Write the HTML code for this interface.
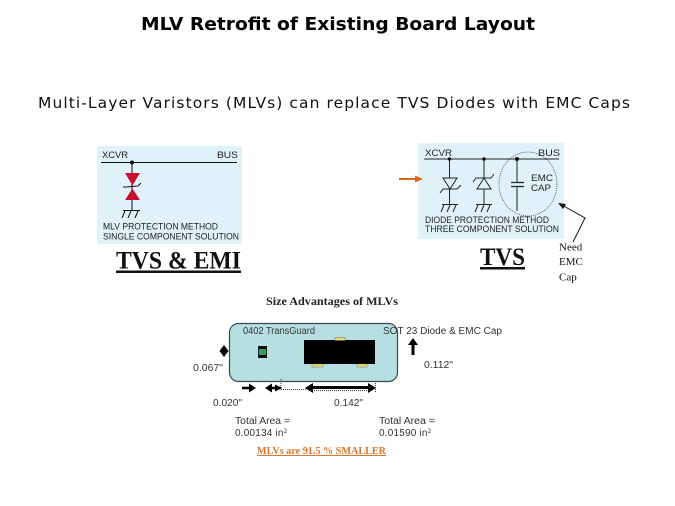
<!DOCTYPE html>
<html><head><meta charset="utf-8"><style>
html,body{margin:0;padding:0;background:#fff}
svg{display:block}
.a{font-family:"Liberation Sans",sans-serif}
.s{font-family:"Liberation Serif",serif}
.d{font-family:"DejaVu Sans",sans-serif}
</style></head><body>
<svg width="675" height="506" viewBox="0 0 675 506" xmlns="http://www.w3.org/2000/svg">
<rect width="675" height="506" fill="#fff"/>
<text class="d" x="141" y="30" font-size="18" font-weight="700" textLength="394" lengthAdjust="spacingAndGlyphs">MLV Retrofit of Existing Board Layout</text>
<text class="d" x="38" y="108" font-size="15.500" textLength="592" lengthAdjust="spacing" fill="#111">Multi-Layer Varistors (MLVs) can replace TVS Diodes with EMC Caps</text>

<!-- left panel -->
<rect x="97" y="146" width="145" height="98" fill="#e1f1fa"/>
<g class="a" font-size="9.500" fill="#222">
<text x="102" y="158" textLength="26" lengthAdjust="spacingAndGlyphs">XCVR</text>
<text x="217" y="158" textLength="21" lengthAdjust="spacingAndGlyphs">BUS</text>
<text x="103" y="229.500" textLength="115" lengthAdjust="spacingAndGlyphs">MLV PROTECTION METHOD</text>
<text x="103" y="239.500" textLength="136" lengthAdjust="spacingAndGlyphs">SINGLE COMPONENT SOLUTION</text>
</g>
<g stroke="#111" stroke-width="1" fill="none">
<path d="M101 162.500H237M132 162.500V210"/>
<path d="M123 187L126 187L138 186L141 183"/>
<path d="M123 210.500H140M125 211L122 218M131 211L128 218M138 211L135 218"/>
</g>
<circle cx="132" cy="162.500" r="2" fill="#111"/>
<path d="M125 173H140L132.500 185.500zM132.500 188.500L140 200H125z" fill="#c8102e"/>
<text class="s" x="116" y="268.500" font-size="25" font-weight="700" textLength="125" lengthAdjust="spacingAndGlyphs" text-decoration="underline" fill="#111">TVS &amp; EMI</text>

<!-- right panel -->
<rect x="418" y="143" width="146" height="96" fill="#e1f1fa"/>
<g class="a" font-size="9.500" fill="#222">
<text x="425" y="156" textLength="27" lengthAdjust="spacingAndGlyphs">XCVR</text>
<text x="538" y="156" textLength="22" lengthAdjust="spacingAndGlyphs">BUS</text>
<text x="531" y="181" textLength="22" lengthAdjust="spacingAndGlyphs">EMC</text>
<text x="531" y="191" textLength="20" lengthAdjust="spacingAndGlyphs">CAP</text>
<text x="425" y="223" textLength="124" lengthAdjust="spacingAndGlyphs">DIODE PROTECTION METHOD</text>
<text x="425" y="232" textLength="134" lengthAdjust="spacingAndGlyphs">THREE COMPONENT SOLUTION</text>
</g>
<g stroke="#222" stroke-width="1" fill="none">
<path d="M424 159H559M449.500 159V178M449.500 189V204M484 159V178M484 189V204M517 159V182.500M517 186.500V211"/>
<path d="M443 178H457L450 189z"/>
<path d="M484 178L491 189H477z"/>
<path d="M440 193L443 189H457L461 185M473 182L476 178H491L494 174"/>
<path d="M511 182.500H524M511 186.500H524" stroke-width="1.300"/>
<path d="M442 204.500H458M444 205L441 212M450 205L447 212M456 205L453 212M476 204.500H492M478 205L475 212M484 205L481 212M490 205L487 212"/>
</g>
<circle cx="449.500" cy="159" r="1.800" fill="#111"/><circle cx="484" cy="159" r="1.800" fill="#111"/><circle cx="517" cy="159" r="2" fill="#111"/>
<ellipse cx="528" cy="184" rx="29" ry="32" fill="none" stroke="#444" stroke-width="0.800" stroke-dasharray="1 1"/>
<path d="M399 179H417" stroke="#d9661f" stroke-width="2" fill="none"/><path d="M415 175.500L423 179L415 182.500z" fill="#d9661f"/>
<path d="M573 242L585 218L560 204" fill="none" stroke="#111" stroke-width="1"/>
<path d="M558 203L566 204L563 209z" fill="#111"/>
<g class="s" font-size="11" fill="#111">
<text x="559" y="250.500">Need</text><text x="559" y="265">EMC</text><text x="559" y="280.500">Cap</text>
</g>
<text class="s" x="480" y="265" font-size="25" font-weight="700" textLength="45" lengthAdjust="spacingAndGlyphs" text-decoration="underline" fill="#111">TVS</text>

<!-- size advantages -->
<text class="s" x="266" y="305" font-size="11.500" font-weight="700" textLength="132" lengthAdjust="spacingAndGlyphs" fill="#222">Size Advantages of MLVs</text>
<rect x="229.500" y="323.500" width="168" height="58" rx="9" fill="#b7dfe2" stroke="#3a4a4c" stroke-width="1.200"/>
<g class="a" font-size="10" fill="#333">
<text x="243" y="334" textLength="72" lengthAdjust="spacingAndGlyphs">0402 TransGuard</text>
<text x="383" y="334" textLength="119" lengthAdjust="spacingAndGlyphs">SOT 23 Diode &amp; EMC Cap</text>
<text x="193" y="371" textLength="30" lengthAdjust="spacingAndGlyphs">0.067"</text>
<text x="424" y="368" textLength="29" lengthAdjust="spacingAndGlyphs">0.112"</text>
<text x="213" y="406" textLength="29" lengthAdjust="spacingAndGlyphs">0.020"</text>
<text x="334" y="406" textLength="29" lengthAdjust="spacingAndGlyphs">0.142"</text>
<text x="235" y="424" textLength="55" lengthAdjust="spacingAndGlyphs">Total Area =</text>
<text x="235" y="436" textLength="52" lengthAdjust="spacing">0.00134 in<tspan font-size="6" dy="-3">2</tspan></text>
<text x="379" y="424" textLength="56" lengthAdjust="spacingAndGlyphs">Total Area =</text>
<text x="379" y="436" textLength="52" lengthAdjust="spacing">0.01590 in<tspan font-size="6" dy="-3">2</tspan></text>
</g>
<rect x="304" y="340" width="71" height="24" fill="#000"/>
<rect x="335" y="337.500" width="10" height="3" fill="#e8e070" stroke="#555" stroke-width=".4"/>
<rect x="312" y="364" width="11" height="3" fill="#e8e070" stroke="#555" stroke-width=".4"/>
<rect x="357" y="364" width="10" height="3" fill="#e8e070" stroke="#555" stroke-width=".4"/>
<rect x="258" y="346" width="9" height="12" fill="#111"/>
<rect x="259" y="349" width="7" height="6" fill="#2e9e6a"/>
<path d="M224 345L228.500 351L224 357L219.500 351z" fill="#000"/>
<path d="M413 355V344" stroke="#000" stroke-width="3"/><path d="M408 345L413 338L418 345z" fill="#000"/>
<path d="M242 388H251" stroke="#000" stroke-width="2.500"/><path d="M249 383.500L256 388L249 392.500z" fill="#000"/>
<path d="M270 388H281" stroke="#000" stroke-width="2.500"/><path d="M272 383.500L265 388L272 392.500z" fill="#000"/>
<path d="M275 384.500L282 388L275 391.500z" fill="#000"/>
<path d="M281 389.500H306" stroke="#333" stroke-width="1" stroke-dasharray="1 1"/>
<path d="M309 387.500H372" stroke="#000" stroke-width="3"/>
<path d="M313 383L305 388L313 393zM368 383L376 388L368 393z" fill="#000"/>
<path d="M310 390.500H372" stroke="#333" stroke-width="1" stroke-dasharray="1 1"/>
<path d="M281 379V388M375.500 381V392" stroke="#333" stroke-width="1" stroke-dasharray="1 1"/>
<text class="s" x="257" y="454" font-size="10" font-weight="700" textLength="129" lengthAdjust="spacingAndGlyphs" text-decoration="underline" fill="#d9762b">MLVs are 91.5 % SMALLER</text>
</svg>
</body></html>
